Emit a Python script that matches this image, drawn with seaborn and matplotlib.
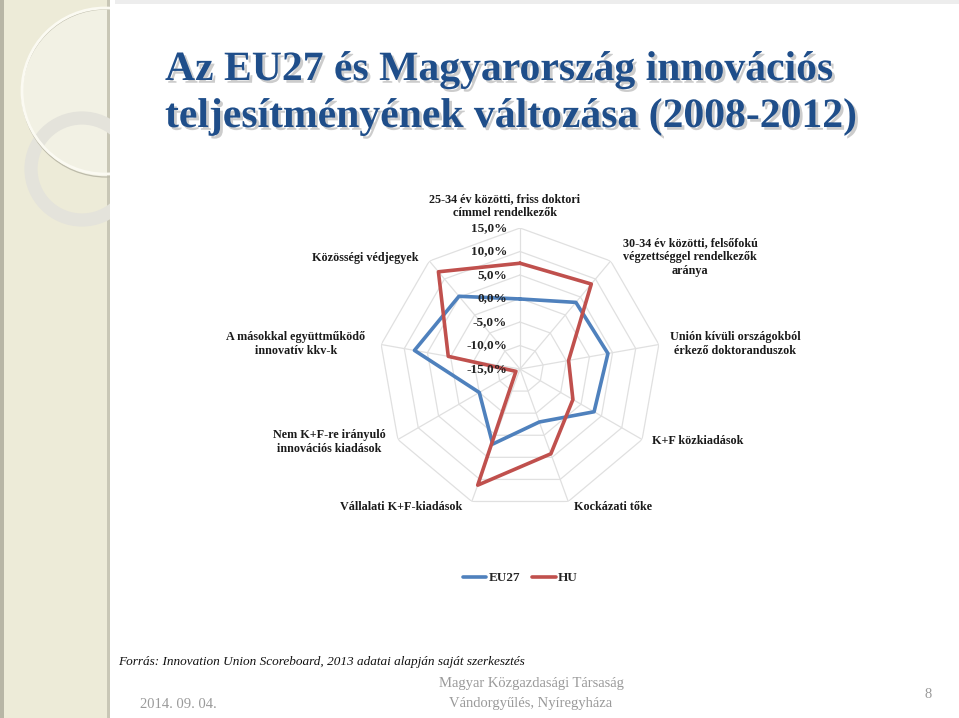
import numpy as np
import pandas as pd
import matplotlib
matplotlib.use("Agg")
import matplotlib.pyplot as plt
import matplotlib.patheffects as pe
from matplotlib.patches import Rectangle, Circle
from matplotlib.lines import Line2D
import matplotlib.transforms as mtransforms
import seaborn as sns

# data (change 2008-2012, %)
categories = [
    "25-34 év közötti, friss doktori\ncímmel rendelkezők",
    "30-34 év közötti, felsőfokú\nvégzettséggel rendelkezők\naránya",
    "Unión kívüli országokból\nérkező doktoranduszok",
    "K+F közkiadások",
    "Kockázati tőke",
    "Vállalati K+F-kiadások",
    "Nem K+F-re irányuló\ninnovációs kiadások",
    "A másokkal együttműködő\ninnovatív kkv-k",
    "Közösségi védjegyek",
]
eu27 = [-0.1, 3.5, 4.0, 3.2, -3.0, 2.0, -5.0, 7.8, 5.2]
hu = [7.5, 8.6, -4.5, -2.0, 4.2, 11.3, -14.0, 0.5, 12.0]
r_ticks = [-15, -10, -5, 0, 5, 10, 15]
r_labels = ["-15,0%", "-10,0%", "-5,0%", "0,0%", "5,0%", "10,0%", "15,0%"]

sns.set_style("white")
plt.rcParams["font.family"] = ["Liberation Serif", "DejaVu Serif"]

W, H = 959, 718
fig = plt.figure(figsize=(W / 100, H / 100), dpi=100)
fig.patch.set_facecolor("white")


def px(x, y):
    return x / W, 1 - y / H


# slide decoration: left beige strip with rings + top grey band
deco = fig.add_axes([0, 0, 110 / W, 1], zorder=1)
deco.set_xlim(0, 110)
deco.set_ylim(H, 0)
deco.axis("off")
deco.add_patch(Rectangle((0, 0), 110, H, facecolor="#EDEBD8", edgecolor="none"))
deco.add_patch(Circle((106, 93), 84, facecolor="#F2F1E4", edgecolor="none"))
deco.add_patch(Rectangle((0, 0), 4, H, facecolor="#B8B6A6", edgecolor="none"))
deco.add_patch(Rectangle((107, 0), 3, H, facecolor="#C9C7B6", edgecolor="none"))
deco.add_patch(Circle((82, 169), 51, facecolor="none", edgecolor="#E4E3DB", lw=9.5))
deco.add_patch(Circle((106, 93), 84, facecolor="none", edgecolor="#BDBBAA", lw=0.9))
deco.add_patch(Circle((105, 91), 83, facecolor="none", edgecolor="#FBFAF2", lw=2.0))
fig.patches.append(Rectangle((115 / W, 1 - 4 / H), 1, 4 / H, transform=fig.transFigure,
                             facecolor="#EDEDED", edgecolor="none", zorder=0))

# title
title_fx = [pe.withSimplePatchShadow(offset=(2, -2), shadow_rgbFace="#9A9A9A", alpha=0.5)]
fig.text(*px(165, 80), "Az EU27 és Magyarország innovációs", fontsize=30,
         fontweight="bold", color="#1F4E8A", ha="left", va="baseline",
         path_effects=title_fx)
fig.text(*px(165, 127), "teljesítményének változása (2008-2012)", fontsize=30,
         fontweight="bold", color="#1F4E8A", ha="left", va="baseline",
         path_effects=title_fx)

# radar chart
cx, cy, R = 520, 369, 141
ax = fig.add_axes([(cx - R) / W, (H - cy - R) / H, 2 * R / W, 2 * R / H],
                  projection="polar")
ax.set_facecolor("none")
ax.set_theta_zero_location("N")
ax.set_theta_direction(-1)
ax.set_ylim(-15, 15)
ax.grid(False)
ax.spines["polar"].set_visible(False)

n = len(categories)
theta = np.linspace(0, 2 * np.pi, n, endpoint=False)
theta_closed = np.append(theta, 2 * np.pi)

for lev in r_ticks[1:]:
    ax.plot(theta_closed, [lev] * (n + 1), color="#E0E0E0", lw=0.9, zorder=1)
for t in theta:
    ax.plot([t, t], [-15, 15], color="#E0E0E0", lw=0.9, zorder=1)

df = pd.DataFrame({
    "theta": np.concatenate([theta_closed, theta_closed]),
    "value": eu27 + [eu27[0]] + hu + [hu[0]],
    "series": ["EU27"] * (n + 1) + ["HU"] * (n + 1),
})
palette = {"EU27": "#4F81BD", "HU": "#C0504D"}
sns.lineplot(data=df, x="theta", y="value", hue="series", palette=palette,
             sort=False, estimator=None, lw=2.6, ax=ax, legend=False, zorder=3)
ax.set_xlabel("")
ax.set_ylabel("")
ax.set_xticks([])
ax.set_yticks([])

off = mtransforms.offset_copy(ax.transData, fig=fig, x=-13, y=0, units="dots")
for v, lab in zip(r_ticks, r_labels):
    ax.text(0, v, lab, transform=off, ha="right", va="center", fontsize=9.5,
            fontweight="bold", color="#222222", zorder=4)

# category labels
label_pos = [(505, 206), (690, 257), (735, 344), (698, 441), (613, 507),
             (401, 507), (329, 442), (296, 344), (365, 258)]
for lab, (x, y) in zip(categories, label_pos):
    fig.text(*px(x, y), lab, ha="center", va="center", fontsize=8.7,
             fontweight="bold", color="#1A1A1A", linespacing=1.2)

# legend
handles = [Line2D([], [], color=palette[s], lw=2.6) for s in ["EU27", "HU"]]
fig.legend(handles, ["EU27", "HU"], loc="center", bbox_to_anchor=px(520, 578),
           ncol=2, frameon=False, handlelength=1.8, handletextpad=0.15,
           columnspacing=0.9, prop={"weight": "bold", "size": 9.5})

# footer
fig.text(*px(118, 662), "Forrás: Innovation Union Scoreboard, 2013 adatai alapján saját szerkesztés",
         ha="left", va="center", fontsize=9.5, style="italic", color="#111111")
fig.text(*px(140, 705), "2014. 09. 04.", ha="left", va="center", fontsize=10.5,
         color="#9A9A9A")
fig.text(*px(531, 684), "Magyar Közgazdasági Társaság", ha="center", va="center",
         fontsize=10.5, color="#9A9A9A")
fig.text(*px(531, 704), "Vándorgyűlés, Nyíregyháza", ha="center", va="center",
         fontsize=10.5, color="#9A9A9A")
fig.text(*px(928, 695), "8", ha="center", va="center", fontsize=10.5,
         color="#9A9A9A")

fig.savefig("out.png", dpi=100)
